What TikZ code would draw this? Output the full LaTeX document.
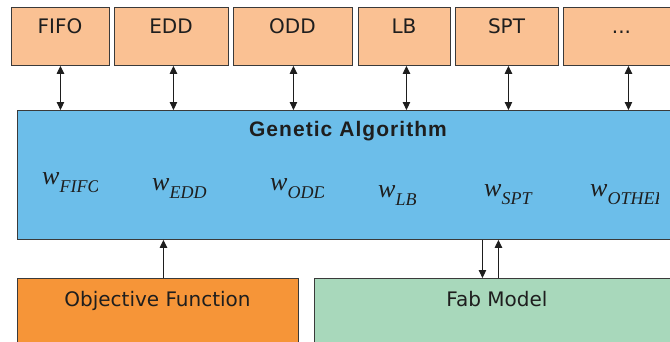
\documentclass[tikz,border=0pt]{standalone}
\usepackage{fontspec}
\setmainfont{DejaVu Sans}
\newfontfamily\gafont[LetterSpace=5]{Liberation Sans}
\newfontfamily\wfont{Liberation Serif}
\usetikzlibrary{arrows.meta}
\definecolor{peach}{HTML}{FAC193}
\definecolor{gablue}{HTML}{6CBEEA}
\definecolor{objorange}{HTML}{F69538}
\definecolor{fabgreen}{HTML}{A8D8BB}
\definecolor{edge}{HTML}{3A3A3A}
\definecolor{ink}{HTML}{1E1E1E}
\begin{document}
\begin{tikzpicture}[x=1pt,y=-1pt,
  box/.style={draw=edge, line width=0.9pt, inner sep=0pt, anchor=north west},
  lbl/.style={anchor=base, inner sep=0pt, font=\fontsize{20}{24}\selectfont, text=ink},
  wlbl/.style={anchor=base west, inner sep=0pt, text=ink},
  conn/.style={draw=ink, line width=1pt, {Triangle[length=8pt,width=7.5pt]}-{Triangle[length=8pt,width=7.5pt]}},
  uconn/.style={draw=ink, line width=1pt, -{Triangle[length=8pt,width=7.5pt]}}]
\useasboundingbox (0,0) rectangle (670,341);
\clip (0,0) rectangle (670,341);
% top boxes
\node[box, fill=peach, minimum width=98pt, minimum height=58pt] (fifo) at (11,7) {};
\node[box, fill=peach, minimum width=114pt, minimum height=58pt] (edd) at (114,7) {};
\node[box, fill=peach, minimum width=119pt, minimum height=58pt] (odd) at (233,7) {};
\node[box, fill=peach, minimum width=92pt, minimum height=58pt] (lb) at (358,7) {};
\node[box, fill=peach, minimum width=103pt, minimum height=58pt] (spt) at (455,7) {};
\node[box, fill=peach, minimum width=117pt, minimum height=58pt] (dots) at (563,7) {};
\node[lbl] (fifot) at (60,33) {FIFO};
\node[lbl] (eddt) at (171,33) {EDD};
\node[lbl] (oddt) at (292.5,33) {ODD};
\node[lbl] (lbt) at (404,33) {LB};
\node[lbl] (sptt) at (506.5,33) {SPT};
\node[lbl] (dotst) at (621.5,33) {...};
% GA box
\node[box, fill=gablue, minimum width=690pt, minimum height=129pt] (ga) at (17,110) {};
\node[anchor=base, inner sep=0pt, font=\gafont\bfseries\fontsize{21}{24}\selectfont, text=ink] (gat) at (348,136) {Genetic Algorithm};
% weights
\begin{scope}
\clip (30,150) rectangle (97,215);
\node[wlbl] (w1) at (42,184) {\wfont\itshape\fontsize{26}{28}\selectfont w\raisebox{-8pt}{\fontsize{18}{20}\selectfont FIFO}};
\end{scope}
\node[wlbl] (w2) at (152,190) {\wfont\itshape\fontsize{26}{28}\selectfont w\raisebox{-8pt}{\fontsize{18}{20}\selectfont EDD}};
\begin{scope}
\clip (260,150) rectangle (323,215);
\node[wlbl] (w3) at (270,190) {\wfont\itshape\fontsize{26}{28}\selectfont w\raisebox{-8pt}{\fontsize{18}{20}\selectfont ODD}};
\end{scope}
\node[wlbl] (w4) at (378,197) {\wfont\itshape\fontsize{26}{28}\selectfont w\raisebox{-8pt}{\fontsize{18}{20}\selectfont LB}};
\node[wlbl] (w5) at (484,196) {\wfont\itshape\fontsize{26}{28}\selectfont w\raisebox{-8pt}{\fontsize{18}{20}\selectfont SPT}};
\begin{scope}
\clip (580,150) rectangle (658,215);
\node[wlbl] (w6) at (590,196) {\wfont\itshape\fontsize{26}{28}\selectfont w\raisebox{-8pt}{\fontsize{18}{20}\selectfont OTHER}};
\end{scope}
% bottom boxes
\node[box, fill=objorange, minimum width=281pt, minimum height=80pt] (obj) at (17,278) {};
\node[box, fill=fabgreen, minimum width=366pt, minimum height=80pt] (fab) at (314,278) {};
\node[lbl] (objt) at (157.5,306) {Objective Function};
\node[lbl] (fabt) at (497,306) {Fab Model};
% connectors
\draw[conn] ([xshift=0pt]fifo.south) -- ([xshift=0pt]fifo.south |- ga.north);
\draw[conn] ([xshift=2pt]edd.south) -- ([xshift=2pt]edd.south |- ga.north);
\draw[conn] ([xshift=0.5pt]odd.south) -- ([xshift=0.5pt]odd.south |- ga.north);
\draw[conn] ([xshift=2pt]lb.south) -- ([xshift=2pt]lb.south |- ga.north);
\draw[conn] ([xshift=1.5pt]spt.south) -- ([xshift=1.5pt]spt.south |- ga.north);
\draw[conn] ([xshift=6.5pt]dots.south) -- ([xshift=6.5pt]dots.south |- ga.north);
\draw[uconn] ([xshift=5.5pt]obj.north) -- ([xshift=5.5pt]obj.north |- ga.south);
\draw[uconn] ([xshift=-15pt]fab.north |- ga.south) -- ([xshift=-15pt]fab.north);
\draw[uconn] ([xshift=1pt]fab.north) -- ([xshift=1pt]fab.north |- ga.south);
\end{tikzpicture}
\end{document}
